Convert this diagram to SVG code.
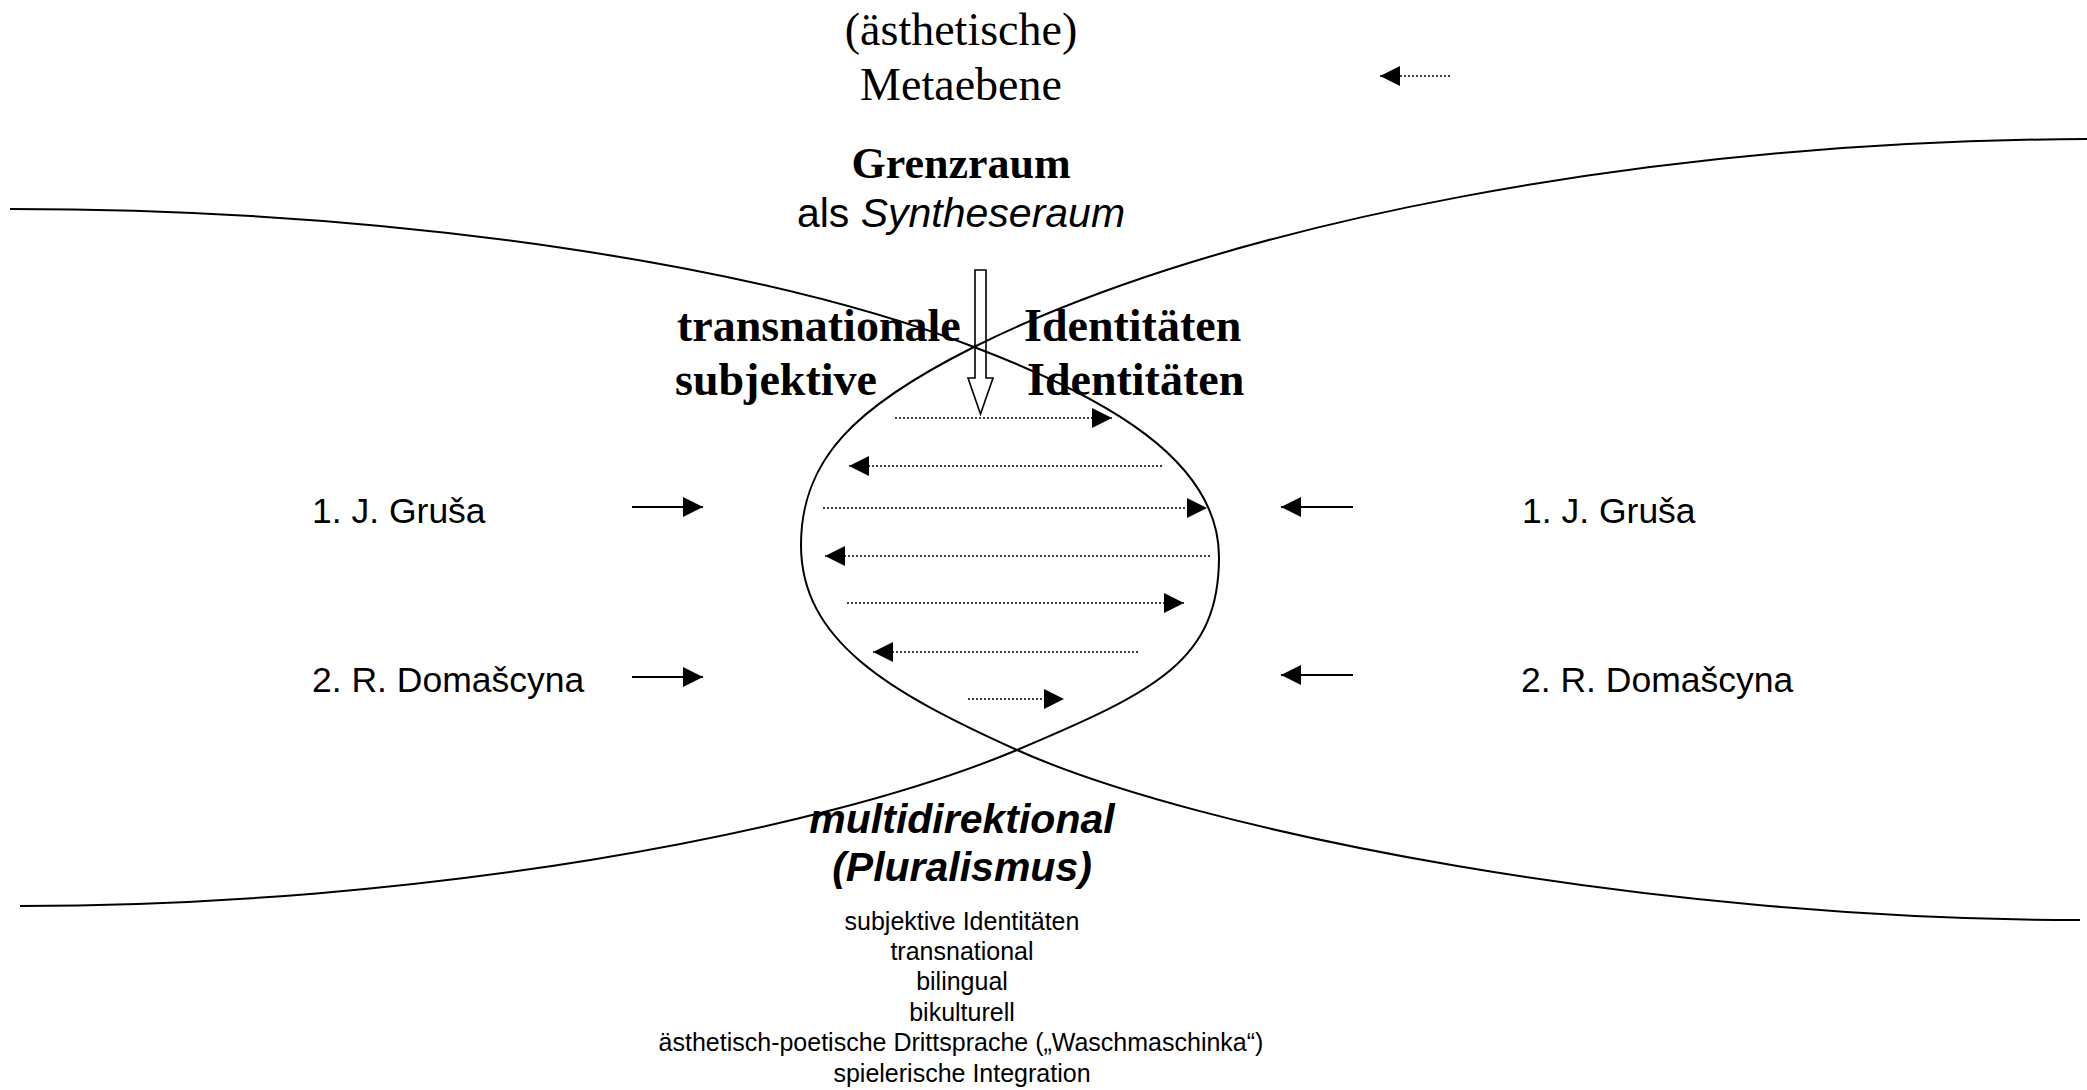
<svg xmlns="http://www.w3.org/2000/svg" width="2087" height="1090" viewBox="0 0 2087 1090">
<style>
.bg{fill:#fff}
.curve{fill:none;stroke:#000;stroke-width:2}
.solid{stroke:#000;stroke-width:1.8;fill:none}
.dot{stroke:#000;stroke-width:1.3;stroke-dasharray:2 2;fill:none}
.hollow{fill:#fff;stroke:#000;stroke-width:1.6}
.tr{font-family:"Liberation Serif","Times New Roman",serif;fill:#000}
.ar{font-family:"Liberation Sans",Arial,sans-serif;fill:#000}
.b{font-weight:bold}
.i{font-style:italic}
.c{text-anchor:middle}
</style>
<defs>
<marker id="head" markerUnits="userSpaceOnUse" markerWidth="20" markerHeight="20" refX="20" refY="10" orient="auto" viewBox="0 0 20 20">
<path d="M0,0 L20,10 L0,20 z" fill="#000"/>
</marker>
</defs>
<rect class="bg" x="0" y="0" width="2087" height="1090"/>

<g id="connectors">
<polygon id="down-arrow" class="hollow" points="975,270 986,270 986,378 993,378 980.5,414 968,378 975,378"/>
<path id="curve-left" class="curve" d="M10,209 C400,209 760,265 974,347 C1105,397 1219,460 1219,557 C1219,660 1157,691 1017,750 C817,834 420,906 20,906"/>
<path id="curve-right" class="curve" d="M2087,139 C1650,141 1224,222 974,347 C854,407 801,460 801,545 C801,640 887,691.5 1017,750 C1200,832 1650,920 2080,920"/>
<line class="dot" x1="1450" y1="76" x2="1380" y2="76" marker-end="url(#head)"/>
<line class="dot" x1="895" y1="418" x2="1112" y2="418" marker-end="url(#head)"/>
<line class="dot" x1="1162" y1="466" x2="849" y2="466" marker-end="url(#head)"/>
<line class="dot" x1="823" y1="508" x2="1207" y2="508" marker-end="url(#head)"/>
<line class="dot" x1="1210" y1="556" x2="825" y2="556" marker-end="url(#head)"/>
<line class="dot" x1="847" y1="603" x2="1184" y2="603" marker-end="url(#head)"/>
<line class="dot" x1="1138" y1="652" x2="873" y2="652" marker-end="url(#head)"/>
<line class="dot" x1="968" y1="699" x2="1064" y2="699" marker-end="url(#head)"/>
<line class="solid" x1="632" y1="507" x2="703" y2="507" marker-end="url(#head)"/>
<line class="solid" x1="632" y1="677" x2="703" y2="677" marker-end="url(#head)"/>
<line class="solid" x1="1353" y1="507" x2="1281" y2="507" marker-end="url(#head)"/>
<line class="solid" x1="1353" y1="675" x2="1281" y2="675" marker-end="url(#head)"/>
</g>

<g id="meta">
<text class="tr c" x="961" y="45" font-size="46">(ästhetische)</text>
<text class="tr c" x="961" y="100" font-size="46">Metaebene</text>
</g>
<g id="grenzraum">
<text class="tr b c" x="961" y="178" font-size="44">Grenzraum</text>
<text class="ar c" x="961" y="227" font-size="41">als <tspan class="i">Syntheseraum</tspan></text>
</g>
<g id="identities">
<text class="tr b" x="677" y="341" font-size="46">transnationale</text>
<text class="tr b" x="675" y="395" font-size="46">subjektive</text>
<text class="tr b" x="1024" y="341" font-size="46">Identitäten</text>
<text class="tr b" x="1027" y="395" font-size="46">Identitäten</text>
</g>
<g id="left-authors">
<text class="ar" x="312" y="523" font-size="35.5">1. J. Gruša</text>
<text class="ar" x="312" y="692" font-size="35.5">2. R. Domašcyna</text>
</g>
<g id="right-authors">
<text class="ar" x="1522" y="523" font-size="35.5">1. J. Gruša</text>
<text class="ar" x="1521" y="692" font-size="35.5">2. R. Domašcyna</text>
</g>
<g id="multidirektional">
<text class="ar b i c" x="962" y="833" font-size="41">multidirektional</text>
<text class="ar b i c" x="962" y="881" font-size="41">(Pluralismus)</text>
</g>
<g id="list">
<text class="ar c" x="962" y="930" font-size="25">subjektive Identitäten</text>
<text class="ar c" x="962" y="960" font-size="25">transnational</text>
<text class="ar c" x="962" y="990" font-size="25">bilingual</text>
<text class="ar c" x="962" y="1021" font-size="25">bikulturell</text>
<text class="ar c" x="961" y="1051" font-size="25">ästhetisch-poetische Drittsprache („Waschmaschinka“)</text>
<text class="ar c" x="962" y="1082" font-size="25">spielerische Integration</text>
</g>
</svg>
